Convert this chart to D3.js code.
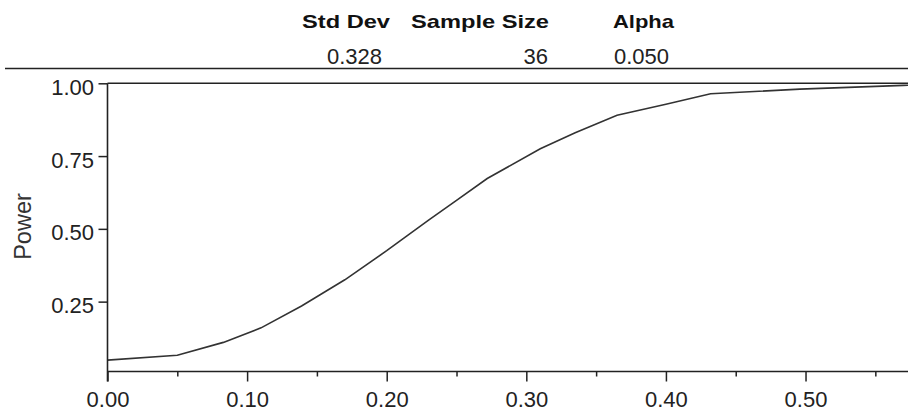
<!DOCTYPE html>
<html><head><meta charset="utf-8">
<script src="https://cdn.jsdelivr.net/npm/d3@7"></script>
<style>body{margin:0;background:#fff}svg{display:block}</style>
</head><body>
<svg id="c" width="908" height="415"></svg>
<script>
// ---- data ----
const headerLabels = ["Std Dev", "Sample Size", "Alpha"];
const headerValues = ["0.328", "36", "0.050"];
const difference = [0, 0.05, 0.083, 0.11, 0.139, 0.17, 0.2, 0.23, 0.25, 0.272, 0.31, 0.335, 0.365, 0.40, 0.432, 0.496, 0.57, 0.60];
const power      = [0.049, 0.066, 0.11, 0.16, 0.235, 0.325, 0.425, 0.53, 0.598, 0.673, 0.775, 0.83, 0.89, 0.928, 0.964, 0.980, 0.993, 0.995];
const xTickValues = [0, 0.1, 0.2, 0.3, 0.4, 0.5];
const xMinorTickValues = [0.05, 0.15, 0.25, 0.35, 0.45, 0.55];
const yTickValues = [0.25, 0.5, 0.75, 1.0];
const yLabel = "Power";

// ---- layout ----
const svg = d3.select("#c");
const W = 908, H = 415;
const pLeft = 107.5, pRight = 908, pTop = 83.3, pBottom = 371.5;
const font = "'Liberation Sans', Arial, sans-serif";
const ink = "#222";

const x = d3.scaleLinear().domain([0, 0.5734]).range([pLeft, pRight]);
const y = d3.scaleLinear().domain([0.01, 1]).range([pBottom, pTop]);

// header table
const hdrStart = [302, 411, 613];
const hdrWidth = [88, 138, 61];
const valEnd = [382, 548, 669];
svg.selectAll("text.hdr").data(headerLabels).join("text")
  .attr("class", "hdr")
  .attr("x", (d, i) => hdrStart[i]).attr("y", 28)
  .attr("textLength", (d, i) => hdrWidth[i])
  .attr("lengthAdjust", "spacingAndGlyphs")
  .attr("font-family", font).attr("font-weight", "bold").attr("font-size", 19)
  .attr("fill", "#111").text(d => d);
svg.selectAll("text.val").data(headerValues).join("text")
  .attr("class", "val")
  .attr("x", (d, i) => valEnd[i]).attr("y", 64)
  .attr("text-anchor", "end")
  .attr("font-family", font).attr("font-size", 22)
  .attr("fill", ink).text(d => d);
svg.append("line").attr("x1", 5).attr("x2", W).attr("y1", 68.5).attr("y2", 68.5)
  .attr("stroke", ink).attr("stroke-width", 1.6);

// clip
svg.append("clipPath").attr("id", "plotclip").append("rect")
  .attr("x", pLeft).attr("y", pTop - 5).attr("width", pRight - pLeft).attr("height", pBottom - pTop + 5);

// curve
const pts = difference.map((d, i) => [d, power[i]]);
svg.append("path").datum(pts)
  .attr("clip-path", "url(#plotclip)")
  .attr("fill", "none").attr("stroke", "#333").attr("stroke-width", 1.6)
  .attr("d", d3.line().x(d => x(d[0])).y(d => y(d[1])));

// x axis
const gx = svg.append("g").attr("transform", `translate(0,${pBottom})`)
  .call(d3.axisBottom(x).tickValues(xTickValues).tickSize(10).tickFormat(d3.format(".2f")));
gx.select(".domain").remove();
gx.selectAll(".tick line").attr("stroke", ink).attr("stroke-width", 1.5);
gx.selectAll(".tick text").attr("y", 35).attr("dy", null)
  .attr("font-family", font).attr("font-size", 22).attr("fill", ink);
const gxm = svg.append("g").attr("transform", `translate(0,${pBottom})`)
  .call(d3.axisBottom(x).tickValues(xMinorTickValues).tickSize(5).tickFormat(""));
gxm.select(".domain").remove();
gxm.selectAll(".tick line").attr("stroke", ink).attr("stroke-width", 1.5);

// y axis
const gy = svg.append("g").attr("transform", `translate(${pLeft},0)`)
  .call(d3.axisLeft(y).tickValues(yTickValues).tickSize(9).tickFormat(d3.format(".2f")));
gy.select(".domain").remove();
gy.selectAll(".tick line").attr("stroke", ink).attr("stroke-width", 1.5);
gy.selectAll(".tick text").attr("x", -13.5).attr("y", 11).attr("dy", null)
  .attr("font-family", font).attr("font-size", 22).attr("fill", ink);

// frame lines
svg.append("line").attr("x1", pLeft).attr("x2", pLeft).attr("y1", pTop).attr("y2", pBottom + 10)
  .attr("stroke", ink).attr("stroke-width", 1.6);
svg.append("line").attr("x1", pLeft).attr("x2", pRight).attr("y1", pBottom).attr("y2", pBottom)
  .attr("stroke", ink).attr("stroke-width", 1.6);
svg.append("line").attr("x1", pLeft).attr("x2", pRight).attr("y1", pTop).attr("y2", pTop)
  .attr("stroke", ink).attr("stroke-width", 1.6);

// y label
svg.append("text")
  .attr("transform", "translate(31,226.5) rotate(-90)")
  .attr("text-anchor", "middle")
  .attr("font-family", font).attr("font-size", 23.5)
  .attr("fill", "#333").text(yLabel);
</script>
</body></html>
